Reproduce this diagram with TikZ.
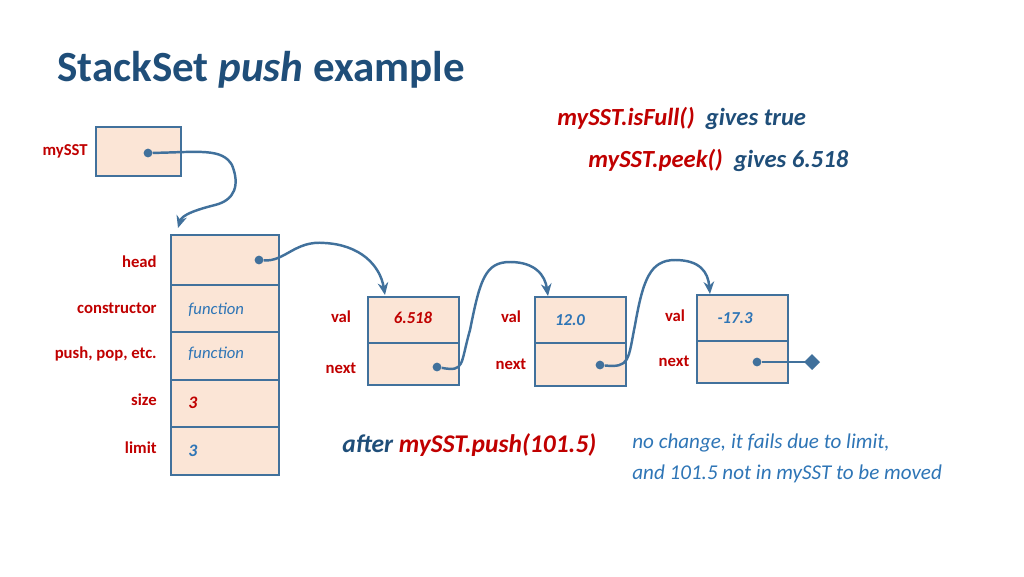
\documentclass[tikz,border=0pt]{standalone}
\usepackage{fontspec}
\setmainfont{Carlito}
\usetikzlibrary{arrows.meta}
\definecolor{dblue}{HTML}{1F4E79}
\definecolor{bblue}{HTML}{41719C}
\definecolor{tblue}{HTML}{2E75B6}
\definecolor{dred}{HTML}{C00000}
\definecolor{cfill}{HTML}{FBE5D6}
\begin{document}
\begin{tikzpicture}[x=0.02cm,y=-0.02cm,
 cell/.style={draw=bblue,fill=cfill,line width=1pt},
 lab/.style={text=dred,inner sep=0,font=\fontsize{9.5}{11}\selectfont\bfseries},
 conn/.style={draw=bblue,line width=1.4pt},
 arr/.style={conn,-{Stealth[length=7pt,width=6pt]}},
 dot/.style={circle,fill=bblue,inner sep=0,minimum size=5pt}]
\useasboundingbox (0,0) rectangle (1024,576);
\node[anchor=west,inner sep=0,text=dblue,font=\fontsize{24.5}{28}\selectfont\bfseries] (title) at (57,70) {StackSet \textit{push} example};
% mySST
\draw[cell] (96,127) rectangle (181,176);
\node[lab,anchor=east] (lm) at (88,151) {mySST};
\node[dot] (d0) at (148,153) {};
% main object
\foreach \a/\b/\n in {235/285/h,285/332/c,332/380/p,380/427/s,427/475/l}{\draw[cell] (171,\a) rectangle (279,\b); \coordinate (\n) at (171,\a);}
\node[lab,anchor=east] (l1) at (157,262) {head};
\node[lab,anchor=east] (l2) at (157,308) {constructor};
\node[lab,anchor=east] (l3) at (157,354) {push, pop, etc.};
\node[lab,anchor=east] (l4) at (157,400) {size};
\node[lab,anchor=east] (l5) at (157,448) {limit};
\node[anchor=west,inner sep=0,text=tblue,font=\fontsize{9.5}{11}\selectfont\itshape] (f1) at (188,310) {function};
\node[anchor=west,inner sep=0,text=tblue,font=\fontsize{9.5}{11}\selectfont\itshape] (f2) at (188,354) {function};
\node[anchor=west,inner sep=0,text=dred,font=\fontsize{10}{11}\selectfont\bfseries\itshape] (v3a) at (188,403) {3};
\node[anchor=west,inner sep=0,text=tblue,font=\fontsize{10}{11}\selectfont\bfseries\itshape] (v3b) at (188,451) {3};
\node[dot] (d1) at (259,260) {};
\coordinate (t0) at (178,228);
\draw[arr] (d0) .. controls (200,152) and (222,148) .. (232,165) .. controls (240,185) and (235,200) .. (215,205) .. controls (195,210) and (182,215) .. (t0);
% node 1
\draw[cell] (368,297) rectangle (459,343); \draw[cell] (368,343) rectangle (459,385);
\node[text=dred,font=\fontsize{9.5}{11}\selectfont\bfseries\itshape] (n1v) at (413,318) {6.518};
\node[lab] (n1a) at (341,317) {val};
\node[lab] (n1b) at (341,368) {next};
\node[dot] (d2) at (437,367) {};
\coordinate (t1) at (385,295);
\draw[arr] (d1) .. controls (285,262) and (295,240) .. (325,243) .. controls (360,245) and (380,265) .. (t1);
% node 2
\draw[cell] (535,297) rectangle (626,343); \draw[cell] (535,343) rectangle (626,386);
\node[text=tblue,font=\fontsize{9.5}{11}\selectfont\bfseries\itshape] (n2v) at (570,320) {12.0};
\node[lab] (n2a) at (511,317) {val};
\node[lab] (n2b) at (511,364) {next};
\node[dot] (d3) at (600,365) {};
\coordinate (t2) at (548,296);
\draw[arr] (d2) .. controls (465,372) and (460,365) .. (470,330) .. controls (480,280) and (485,262) .. (510,262) .. controls (535,262) and (545,275) .. (t2);
% node 3
\draw[cell] (697,295) rectangle (788,341); \draw[cell] (697,341) rectangle (788,383);
\node[text=tblue,font=\fontsize{9.5}{11}\selectfont\bfseries\itshape] (n3v) at (735,318) {-17.3};
\node[lab] (n3a) at (675,316) {val};
\node[lab] (n3b) at (674,361) {next};
\node[dot] (d4) at (757,362) {};
\coordinate (t3) at (710,294);
\draw[arr] (d3) .. controls (630,368) and (628,360) .. (635,325) .. controls (643,280) and (650,260) .. (675,260) .. controls (700,260) and (708,272) .. (t3);
\coordinate (e) at (820,362);
\draw[conn,-{Diamond[length=9pt,width=9pt]}] (d4) -- (e);
% texts
\node[anchor=west,inner sep=0,font=\fontsize{14}{16}\selectfont\bfseries\itshape] (t1x) at (557,118) {\textcolor{dred}{mySST.isFull()}\ \ \textcolor{dblue}{gives true}};
\node[anchor=west,inner sep=0,font=\fontsize{14}{16}\selectfont\bfseries\itshape] (t2x) at (588,160) {\textcolor{dred}{mySST.peek()}\ \ \textcolor{dblue}{gives 6.518}};
\node[anchor=west,inner sep=0,font=\fontsize{14.5}{17}\selectfont\bfseries\itshape] (t3x) at (342,445) {\textcolor{dblue}{after} \textcolor{dred}{mySST.push(101.5)}};
\node[anchor=west,inner sep=0,text=tblue,font=\fontsize{12}{14}\selectfont\itshape] (t4x) at (632,443) {no change, it fails due to limit,};
\node[anchor=west,inner sep=0,text=tblue,font=\fontsize{12}{14}\selectfont\itshape] (t5x) at (632,474) {and 101.5 not in mySST to be moved};
\end{tikzpicture}
\end{document}
